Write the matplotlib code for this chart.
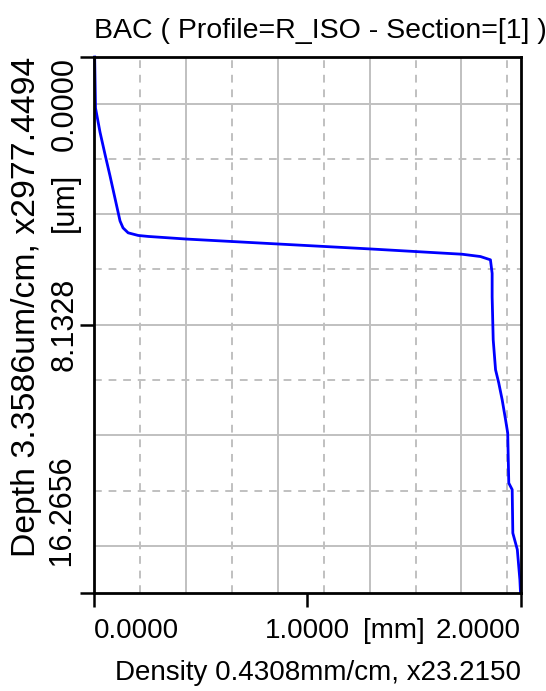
import numpy as np
import matplotlib
matplotlib.use('Agg')
import matplotlib.pyplot as plt

# font setup
plt.rcParams['font.family'] = ['Liberation Sans', 'DejaVu Sans']
plt.rcParams['axes.unicode_minus'] = False

# profile data (density in mm, depth in um)
density = [0.003, 0.007, 0.028, 0.052, 0.075, 0.099, 0.122, 0.136, 0.160, 0.207, 0.254,
           0.435, 0.865, 1.296, 1.726, 1.812, 1.859, 1.867, 1.867, 1.872, 1.883, 1.898,
           1.914, 1.930, 1.940, 1.945, 1.961, 1.964, 1.985, 1.997, 2.0]
depth = [0.0, 1.55, 2.28, 2.97, 3.61, 4.31, 4.98, 5.19, 5.34, 5.42, 5.45,
         5.53, 5.68, 5.83, 5.99, 6.06, 6.16, 6.57, 7.28, 8.59, 9.50, 9.90,
         10.41, 11.02, 11.42, 12.94, 13.14, 14.46, 14.96, 15.87, 16.2656]

x_ticks = [0.0, 1.0, 2.0]
x_ticklabels = ['0.0000', '1.0000', '2.0000']
y_ticks = [0.0, 8.1328, 16.2656]
y_ticklabels = ['0.0000', '8.1328', '   16.2656']
x_grid_step = 0.4308
y_grid_step = 3.3586

title = 'BAC ( Profile=R_ISO - Section=[1] )'
xlabel = 'Density 0.4308mm/cm, x23.2150'
ylabel = 'Depth 3.3586um/cm, x2977.4494'

fig = plt.figure(figsize=(5.46, 6.91), dpi=100)
ax = fig.add_axes([0.1722, 0.1425, 0.9533 - 0.1722, 0.9175 - 0.1425])

grid_c = '#c0c0c0'
# vertical grid: solid every step, dashed in between
for i in range(1, 5):
    ax.axvline(x_grid_step * i, color=grid_c, lw=1.4, zorder=1)
for i in range(5):
    ax.axvline(x_grid_step * (i + 0.5), color=grid_c, lw=1.4, ls=(0, (4, 3.5)), zorder=1)
# horizontal grid centred on the middle tick
for i in range(-2, 3):
    ax.axhline(y_ticks[1] + y_grid_step * i, color=grid_c, lw=1.4, zorder=1)
for i in range(-2, 2):
    ax.axhline(y_ticks[1] + y_grid_step * (i + 0.5), color=grid_c, lw=1.4, ls=(0, (4, 3.5)), zorder=1)

ax.plot(density, depth, color='#0000ff', lw=2.0, zorder=3, clip_on=False)

ax.set_xlim(0, 2.0)
ax.set_ylim(16.2656, 0)

for s in ax.spines.values():
    s.set_linewidth(2.0)
    s.set_zorder(4)

ax.tick_params(axis='both', direction='out', length=10, width=1.8)
ax.tick_params(axis='x', pad=8, labelsize=20)
ax.tick_params(axis='y', pad=0.5, labelsize=22)

ax.set_xticks(x_ticks)
ax.set_xticklabels(x_ticklabels)
for lab, ha in zip(ax.get_xticklabels(), ['left', 'center', 'right']):
    lab.set_ha(ha)
ax.set_yticks(y_ticks)
ax.set_yticklabels(y_ticklabels, rotation=90)
for lab, va in zip(ax.get_yticklabels(), ['top', 'center', 'bottom']):
    lab.set_va(va)
    lab.set_ha('right')

# unit labels next to the tick labels
ax.annotate('[mm]', xy=(1.0, 0), xycoords=('data', 'axes fraction'),
            xytext=(56, -25), textcoords='offset pixels', ha='left', va='top', fontsize=20)
ax.annotate('[um]', xy=(0, 0), xycoords=('axes fraction', 'data'),
            xytext=(-14.5, -116), textcoords='offset pixels', ha='right', va='top',
            rotation=90, fontsize=22)

ax.set_title(title, loc='left', fontsize=20.5, pad=14)
ax.set_xlabel(xlabel, loc='right', fontsize=20, labelpad=12)
ax.set_ylabel(ylabel, loc='top', fontsize=24.3, labelpad=5)

fig.savefig('out.png', dpi=100)
